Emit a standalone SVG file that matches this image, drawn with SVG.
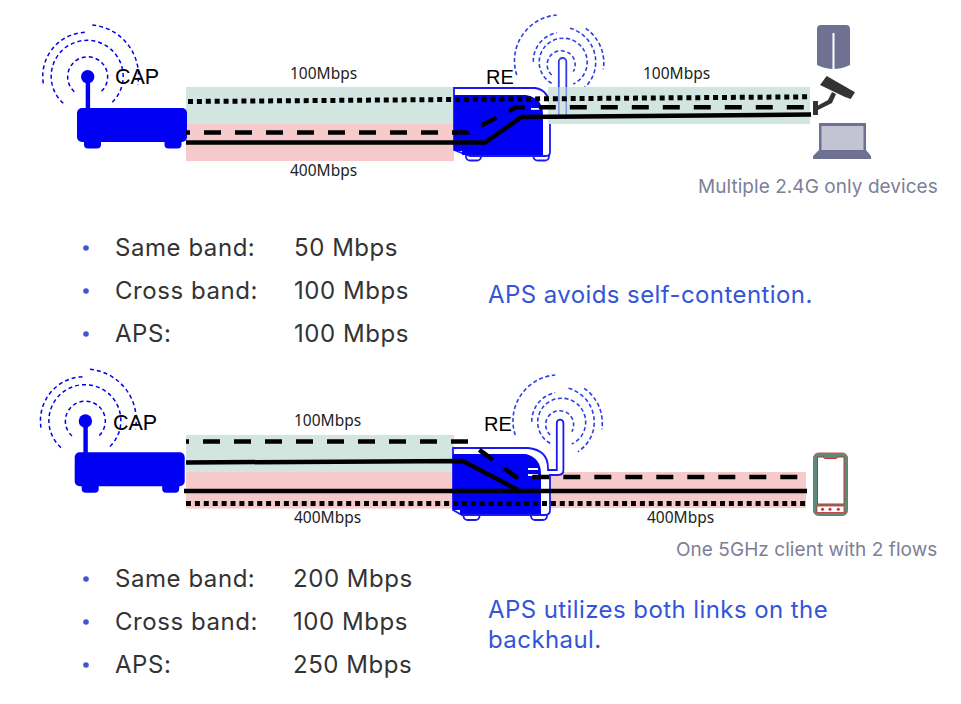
<svg xmlns="http://www.w3.org/2000/svg" xmlns:xlink="http://www.w3.org/1999/xlink" width="961" height="704" viewBox="0 0 961 704">
<style>
.green{fill:#d2e5e0}
.pink{fill:#f6caca}
.dot{fill:none;stroke:#000;stroke-width:5;stroke-dasharray:5 3.9}
.dash{fill:none;stroke:#000;stroke-width:4.500;stroke-dasharray:17 14}
.solid{fill:none;stroke:#000;stroke-width:4.500}
.arc{fill:none;stroke:#0000f0;stroke-width:1.500;stroke-dasharray:4 3}
.arc2{fill:none;stroke:#2a3fe8;stroke-width:1.600;stroke-dasharray:4 2.600}
.bl{fill:#0000f5}
.ol{fill:#fff;stroke:#1a1af0;stroke-width:1.800}
.mb{font:15.500px "Noto Sans","Open Sans",sans-serif;fill:#222}
.nm{font:21.500px "Liberation Sans",Arial,sans-serif;fill:#000}
.bt{font:24px Inter,"Open Sans",sans-serif;fill:#333;letter-spacing:.55px}
.bu{fill:#3a57d6}
.hl{font:24px Inter,"Open Sans",sans-serif;fill:#3355d8;letter-spacing:.42px}
.gr{font:19px Inter,"Open Sans",sans-serif;fill:#7c8098;letter-spacing:.05px}
</style>
<defs>
<g id="capShape">
<path class="arc" d="M74.300,91.700A20,20 0 1 1 101,91.700"/>
<path class="arc" d="M63.300,103.300A36,36 0 1 1 111.700,102.700"/>
<path class="arc" d="M43.300,83.300A44,44 0 0 1 86.700,32.300"/>
<path class="arc" d="M92.300,25A51,51 0 0 1 137.700,85"/>
<circle class="bl" cx="87.700" cy="76.700" r="6.700"/>
<rect class="bl" x="85.700" y="76" width="4.400" height="34"/>
<rect class="bl" x="77" y="108" width="110" height="34" rx="5"/>
<rect class="bl" x="84" y="138" width="17" height="10.500" rx="4"/>
<rect class="bl" x="164.500" y="138" width="17" height="10.500" rx="4"/>
</g>
<g id="reArcs">
<path class="arc2" d="M551.700,75A14,14 0 1 1 573.300,71.700"/>
<path class="arc2" d="M551.700,83.300A24,24 0 1 1 573.300,84"/>
<path class="arc2" d="M533.300,61.700A29,29 0 0 1 556.700,32.700"/>
<path class="arc2" d="M570,28.300A35,35 0 0 1 579.300,91.700"/>
<path class="arc2" d="M516.700,75A46,46 0 0 1 556.700,15"/>
<path class="arc2" d="M585.700,28.300A42,42 0 0 1 603.300,69.300"/>
</g>
</defs>

<g id="bands">
<rect class="green" x="186" y="87" width="269" height="37"/>
<rect class="pink" x="186" y="124" width="268" height="37"/>
<rect class="green" x="186" y="435" width="268" height="37"/>
<rect class="pink" x="186" y="472" width="268" height="36.500"/>
<rect class="pink" x="546" y="472" width="260" height="36"/>
</g>

<g id="cap1"><use xlink:href="#capShape" href="#capShape"/><text class="nm" x="115" y="84">CAP</text></g>

<g id="re1">
<use xlink:href="#reArcs" href="#reArcs"/>
<rect class="ol" x="466" y="150" width="15" height="10.500" rx="4"/>
<rect class="ol" x="533.500" y="150" width="15.500" height="10.500" rx="4"/>
<path class="ol" d="M454,88H535Q550,90 550,110V152Q550,156 546,156H470L454,150Z"/>
<path class="bl" d="M454,95H526Q543,98 543,115V155H462V151H454Z"/>
<rect x="531" y="108" width="9" height="1.800" fill="#fff"/>
<rect x="558.800" y="58" width="7.500" height="60" rx="3.700" fill="none" stroke="#2a3fe8" stroke-width="1.800"/>
<rect class="green" x="548" y="87" width="262" height="37"/>
<path d="M558.800,87V117M566.300,87V117" fill="none" stroke="#7f96e0" stroke-width="1.500"/>
<text class="nm" x="486" y="84" style="font-size:20px">RE</text>
</g>

<g id="cap2"><use xlink:href="#capShape" href="#capShape" transform="translate(-2.300,344.300)"/><text class="nm" x="113" y="430">CAP</text></g>

<g id="re2">
<use xlink:href="#reArcs" href="#reArcs" transform="translate(-1.500,360)"/>
<rect class="ol" x="463.500" y="508" width="16" height="12" rx="4"/>
<rect class="ol" x="531" y="508" width="16" height="12" rx="4"/>
<path class="ol" d="M453,448H528Q548,450 548,468V470H556.800V423A3.300,3.300 0 0 1 563.400,423V470Q563.400,475 558,475H550V510Q550,515 545,515H462L453,510Z"/>
<path class="bl" d="M453,454H526Q541,458 541,474V514H460V510H453Z"/>
<rect x="528" y="468" width="10" height="2" fill="#fff"/>
<rect x="528" y="474" width="10" height="2" fill="#fff"/>
<text class="nm" x="484" y="431" style="font-size:20px">RE</text>
</g>

<g id="server"><path d="M817,29Q817,25 821,25H846Q850,25 850,29V65Q833.500,73 817,65Z" fill="#6e7191"/><rect x="832.500" y="33" width="2" height="36" fill="#fff"/></g>
<g id="laptop"><rect x="819" y="123" width="47" height="28" fill="#6e7191"/><rect x="821.500" y="126" width="42" height="24" fill="#c2c4d4"/><path d="M819,150H866L871,156V159H813V156Z" fill="#6e7191"/></g>
<g id="phone">
<rect x="813.500" y="453" width="34" height="62.500" rx="5" fill="#5f8a76" stroke="#d15050" stroke-width="1"/>
<path d="M817.500,457H823L825,458.500H836L838,457H844V504H817.500Z" fill="#fff" stroke="#c53030" stroke-width="1"/>
<rect x="817" y="506" width="27" height="6.500" fill="#fff" stroke="#c53030" stroke-width=".8"/>
<circle cx="822.500" cy="509.300" r="1.500" fill="#c53030"/><circle cx="830" cy="509.300" r="1.500" fill="#c53030"/><circle cx="838.300" cy="509.300" r="1.500" fill="#c53030"/>
</g>

<g id="connectors">
<path class="dot" d="M188,101.500L810,96.800"/>
<path class="dash" d="M186,132.500H468L516,107.300H812" stroke-dashoffset="13"/>
<path class="solid" d="M186,142.500H485L521.700,117L811,114.500"/>
<path class="dash" d="M186,441.500H468L516,477H809" stroke-dashoffset="14"/>
<path class="solid" d="M186,462.500L463,461L518,490"/>
<path class="solid" d="M184,491H807"/>
<path class="dot" d="M186,503.500H808"/>
</g>

<g id="camera">
<path d="M820,85L826.700,76L855,92.300L850.700,99L845,97Z" fill="#333"/>
<rect x="813" y="101" width="5" height="14" fill="#333"/>
<path d="M818,105.500L828,100L832,92L836,94L832,103L818,110Z" fill="#333"/>
</g>

<g id="labels">
<text class="mb" x="290" y="79">100Mbps</text>
<text class="mb" x="643" y="79">100Mbps</text>
<text class="mb" x="290" y="176">400Mbps</text>
<text class="mb" x="294" y="426">100Mbps</text>
<text class="mb" x="294" y="523">400Mbps</text>
<text class="mb" x="647" y="523">400Mbps</text>
<text class="gr" x="698" y="193">Multiple 2.4G only devices</text>
<text class="gr" x="676" y="556">One 5GHz client with 2 flows</text>
<text class="hl" x="488" y="303">APS avoids self-contention.</text>
<text class="hl" x="488" y="618">APS utilizes both links on the</text>
<text class="hl" x="488" y="648">backhaul.</text>
</g>
<g id="list1">
<circle class="bu" cx="86" cy="248" r="2.800"/><circle class="bu" cx="86" cy="291" r="2.800"/><circle class="bu" cx="86" cy="334" r="2.800"/>
<text class="bt" x="115" y="256">Same band:</text><text class="bt" x="294" y="256">50 Mbps</text>
<text class="bt" x="115" y="299">Cross band:</text><text class="bt" x="294" y="299">100 Mbps</text>
<text class="bt" x="115" y="342">APS:</text><text class="bt" x="294" y="342">100 Mbps</text>
</g>
<g id="list2">
<circle class="bu" cx="86" cy="579" r="2.800"/><circle class="bu" cx="86" cy="622" r="2.800"/><circle class="bu" cx="86" cy="665" r="2.800"/>
<text class="bt" x="115" y="587">Same band:</text><text class="bt" x="293" y="587">200 Mbps</text>
<text class="bt" x="115" y="630">Cross band:</text><text class="bt" x="293" y="630">100 Mbps</text>
<text class="bt" x="115" y="673">APS:</text><text class="bt" x="293" y="673">250 Mbps</text>
</g>
</svg>
